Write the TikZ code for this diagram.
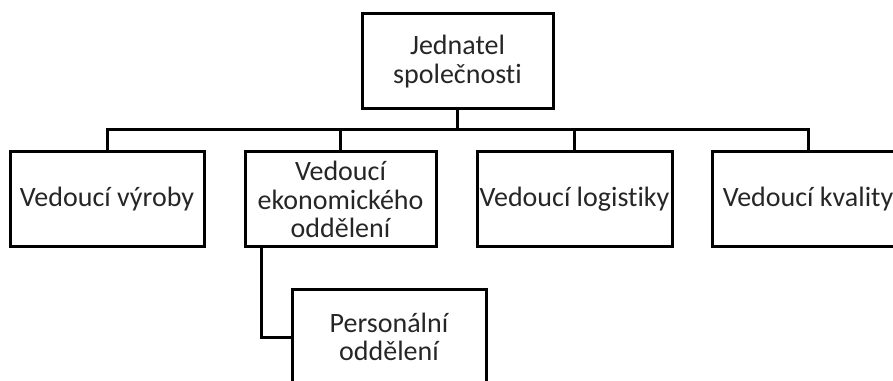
\documentclass[tikz,border=0pt]{standalone}
\usepackage{fontspec}
\setmainfont{Carlito}[Ligatures=NoCommon]
\usetikzlibrary{calc}
\definecolor{inkgray}{RGB}{38,38,38}
\begin{document}
\begin{tikzpicture}[x=0.75pt,y=-0.75pt,
  orgbox/.style={draw=black, line width=2.25pt, rectangle, inner sep=0pt,
    minimum height=71.25pt, align=center, text=inkgray,
    font=\fontsize{21}{21.5}\selectfont},
  link/.style={draw=black, line width=2.25pt, line cap=rect}]
  \useasboundingbox (0,0) rectangle (893,381);
  \clip (0,0) rectangle (893,381);

  % head of the company
  \node[orgbox, minimum width=143.25pt] (ceo) at (457.5,61.5) {Jednatel\\společnosti};

  % department heads
  \node[orgbox, minimum width=145.5pt] (vyroba) at (107,199.5) {Vedoucí výroby};
  \node[orgbox, minimum width=143.25pt] (ekon) at (340.5,199.5) {Vedoucí\\ekonomického\\oddělení};
  \node[orgbox, minimum width=146.25pt] (logist) at (574.5,199.5) {Vedoucí logistiky};
  \node[orgbox, minimum width=144pt] (kval) at (808,199.5) {Vedoucí kvality};

  % personnel department under the economic head
  \node[orgbox, minimum width=145.5pt] (pers) at (389,337) {Personální\\oddělení};

  % branch line below the head
  \coordinate (bus) at (457.5,130);
  \draw[link] (ceo.south) -- (bus);
  \draw[link] (vyroba.north) |- (bus);
  \draw[link] (ekon.north) |- (bus);
  \draw[link] (logist.north) |- (bus);
  \draw[link] (kval.north) |- (bus);

  % economic head to personnel department
  \draw[link] ([xshift=13.5pt]ekon.south west) |- (pers.west);
\end{tikzpicture}
\end{document}
